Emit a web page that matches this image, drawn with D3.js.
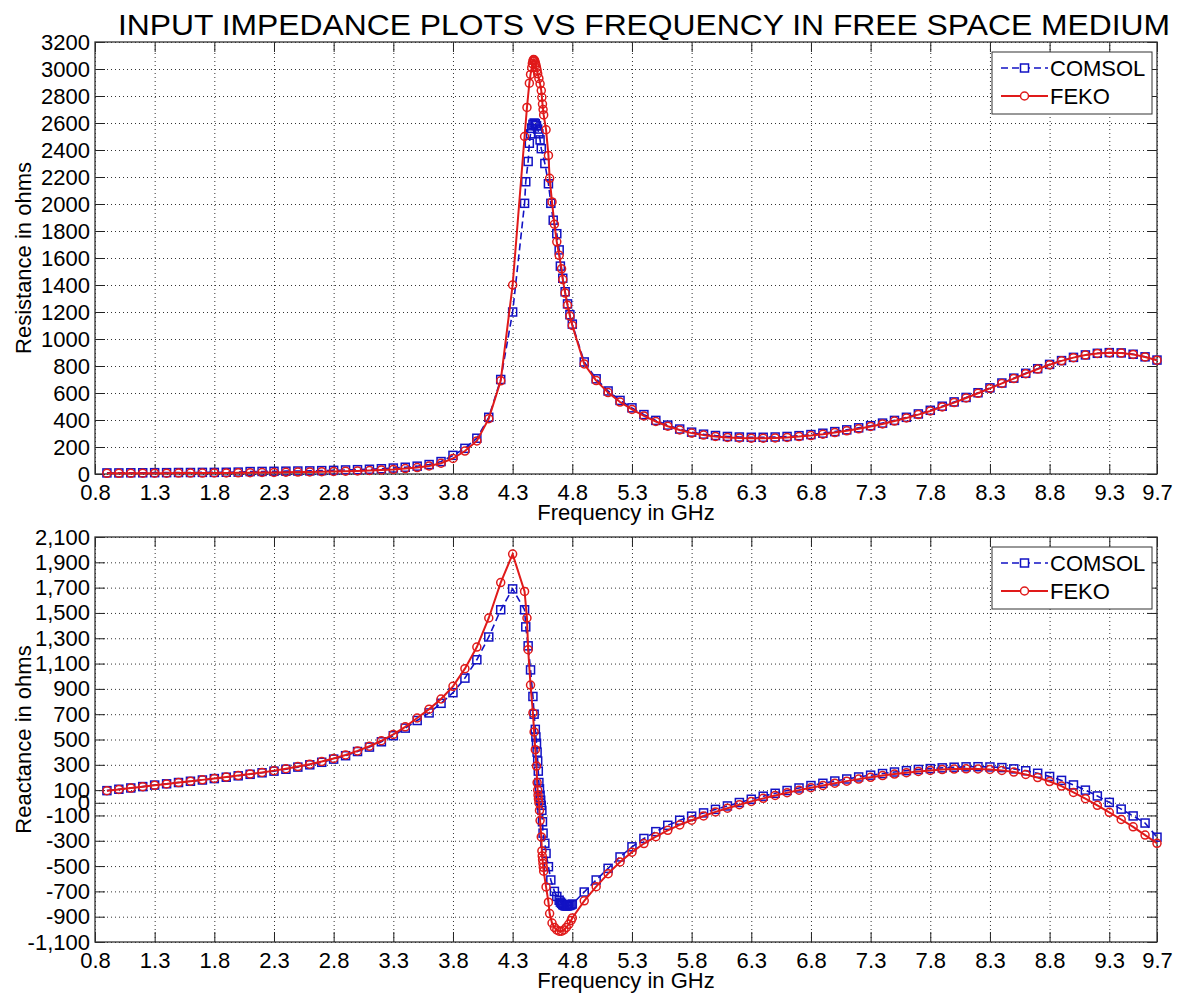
<!DOCTYPE html>
<html>
<head>
<meta charset="utf-8">
<script src="https://cdn.jsdelivr.net/npm/d3@7"></script>
<style>
body { margin: 0; background: #fff; }
svg { display: block; font-family: "Liberation Sans", Arial, sans-serif; }
</style>
</head>
<body>
<svg id="chart" width="1186" height="998"></svg>
<script>
// frequency ticks (GHz)
const freqTicks = [0.8, 1.3, 1.8, 2.3, 2.8, 3.3, 3.8, 4.3, 4.8, 5.3, 5.8, 6.3, 6.8, 7.3, 7.8, 8.3, 8.8, 9.3, 9.7];
const resistanceTicks = [0, 200, 400, 600, 800, 1000, 1200, 1400, 1600, 1800, 2000, 2200, 2400, 2600, 2800, 3000, 3200];
const reactanceTicks = [-1100, -900, -700, -500, -300, -100, 0, 100, 300, 500, 700, 900, 1100, 1300, 1500, 1700, 1900, 2100];

// [frequency, ohms]
const comsolResistance = [
    [0.9, 8], [1.0, 8], [1.1, 9], [1.2, 9], [1.3, 10], [1.4, 10], [1.5, 11], [1.6, 11], [1.7, 12], [1.8, 12],
    [1.9, 13], [2.0, 14], [2.1, 18], [2.2, 19], [2.3, 20], [2.4, 21], [2.5, 22], [2.6, 23], [2.7, 25], [2.8, 27],
    [2.9, 30], [3.0, 32], [3.1, 35], [3.2, 39], [3.3, 44], [3.4, 50], [3.5, 58], [3.6, 70], [3.7, 92], [3.8, 138],
    [3.9, 190], [4.0, 265], [4.1, 420], [4.2, 700], [4.3, 1200],
    [4.4, 2005], [4.41, 2165], [4.43, 2315], [4.44, 2450], [4.45, 2520], [4.46, 2560], [4.47, 2590], [4.48, 2600],
    [4.49, 2595], [4.5, 2580], [4.51, 2555], [4.52, 2520], [4.53, 2475], [4.54, 2410], [4.57, 2300], [4.6, 2150],
    [4.62, 2005], [4.64, 1880], [4.67, 1780], [4.69, 1660], [4.7, 1540], [4.72, 1450], [4.74, 1350], [4.76, 1260],
    [4.78, 1180], [4.8, 1110],
    [4.9, 830], [5.0, 705], [5.1, 615], [5.2, 545], [5.3, 490], [5.4, 440], [5.5, 397], [5.6, 362], [5.7, 333],
    [5.8, 310], [5.9, 295], [6.0, 285], [6.1, 278], [6.2, 274], [6.3, 272], [6.4, 272], [6.5, 274], [6.6, 278],
    [6.7, 284], [6.8, 292], [6.9, 302], [7.0, 314], [7.1, 327], [7.2, 342], [7.3, 358], [7.4, 377], [7.5, 397],
    [7.6, 420], [7.7, 445], [7.8, 472], [7.9, 502], [8.0, 534], [8.1, 567], [8.2, 602], [8.3, 638], [8.4, 674],
    [8.5, 710], [8.6, 746], [8.7, 780], [8.8, 812], [8.9, 840], [9.0, 864], [9.1, 882], [9.2, 894], [9.3, 899],
    [9.4, 897], [9.5, 887], [9.6, 868], [9.7, 844]
];

const fekoResistance = [
    [0.9, 5], [1.0, 5], [1.1, 5], [1.2, 6], [1.3, 6], [1.4, 6], [1.5, 7], [1.6, 7], [1.7, 7], [1.8, 8],
    [1.9, 8], [2.0, 9], [2.1, 10], [2.2, 11], [2.3, 12], [2.4, 13], [2.5, 14], [2.6, 15], [2.7, 17], [2.8, 19],
    [2.9, 21], [3.0, 23], [3.1, 26], [3.2, 30], [3.3, 34], [3.4, 40], [3.5, 48], [3.6, 60], [3.7, 80], [3.8, 115],
    [3.9, 170], [4.0, 245], [4.1, 410], [4.2, 690], [4.3, 1400],
    [4.4, 2500], [4.42, 2715], [4.44, 2895], [4.45, 2960], [4.46, 3010], [4.465, 3040], [4.47, 3060], [4.475, 3070],
    [4.48, 3068], [4.485, 3060], [4.49, 3045], [4.495, 3030], [4.5, 3010], [4.505, 2990], [4.51, 2965], [4.52, 2930],
    [4.53, 2890], [4.54, 2840], [4.545, 2790], [4.55, 2740], [4.555, 2700], [4.56, 2660], [4.58, 2550], [4.6, 2360],
    [4.61, 2190], [4.63, 2015], [4.65, 1850], [4.67, 1720], [4.69, 1620], [4.71, 1520], [4.72, 1440], [4.74, 1340],
    [4.76, 1250], [4.78, 1170], [4.8, 1100],
    [4.9, 815], [5.0, 692], [5.1, 603], [5.2, 533], [5.3, 478], [5.4, 430], [5.5, 389], [5.6, 354], [5.7, 326],
    [5.8, 303], [5.9, 288], [6.0, 278], [6.1, 271], [6.2, 267], [6.3, 265], [6.4, 265], [6.5, 267], [6.6, 271],
    [6.7, 277], [6.8, 285], [6.9, 295], [7.0, 307], [7.1, 320], [7.2, 335], [7.3, 352], [7.4, 371], [7.5, 392],
    [7.6, 415], [7.7, 440], [7.8, 467], [7.9, 497], [8.0, 529], [8.1, 563], [8.2, 598], [8.3, 634], [8.4, 671],
    [8.5, 707], [8.6, 743], [8.7, 777], [8.8, 809], [8.9, 838], [9.0, 862], [9.1, 881], [9.2, 893], [9.3, 898],
    [9.4, 896], [9.5, 886], [9.6, 867], [9.7, 843]
];

const comsolReactance = [
    [0.9, 96], [1.0, 107], [1.1, 117], [1.2, 128], [1.3, 140], [1.4, 150], [1.5, 160], [1.6, 170], [1.7, 180],
    [1.8, 191], [1.9, 202], [2.0, 213], [2.1, 225], [2.2, 237], [2.3, 250], [2.4, 265], [2.5, 282], [2.6, 300],
    [2.7, 320], [2.8, 345], [2.9, 372], [3.0, 405], [3.1, 440], [3.2, 482], [3.3, 530], [3.4, 590], [3.5, 650],
    [3.6, 710], [3.7, 786], [3.8, 870], [3.9, 985], [4.0, 1130], [4.1, 1310], [4.2, 1525], [4.3, 1690],
    [4.4, 1525], [4.41, 1390], [4.43, 1240], [4.45, 1050], [4.47, 840], [4.48, 700], [4.49, 580], [4.495, 520],
    [4.5, 470], [4.505, 400], [4.51, 330], [4.515, 250], [4.52, 160], [4.525, 110], [4.53, 60], [4.535, 20],
    [4.54, -20], [4.545, -60], [4.55, -150], [4.555, -240], [4.57, -320], [4.58, -400], [4.6, -505], [4.62, -610],
    [4.65, -700], [4.67, -740], [4.69, -770], [4.7, -785], [4.71, -795], [4.72, -805], [4.73, -810], [4.74, -815],
    [4.75, -815], [4.76, -815], [4.77, -812], [4.78, -810], [4.79, -805], [4.8, -800],
    [4.9, -705], [5.0, -610], [5.1, -518], [5.2, -428], [5.3, -348], [5.4, -282], [5.5, -228], [5.6, -178],
    [5.7, -138], [5.8, -106], [5.9, -80], [6.0, -52], [6.1, -25], [6.2, 2], [6.3, 28], [6.4, 52], [6.5, 75],
    [6.6, 97], [6.7, 117], [6.8, 136], [6.9, 154], [7.0, 172], [7.1, 188], [7.2, 204], [7.3, 218], [7.4, 231],
    [7.5, 243], [7.6, 254], [7.7, 263], [7.8, 270], [7.9, 276], [8.0, 281], [8.1, 284], [8.2, 285], [8.3, 283],
    [8.4, 278], [8.5, 268], [8.6, 253], [8.7, 233], [8.8, 208], [8.9, 177], [9.0, 141], [9.1, 100], [9.2, 54],
    [9.3, 3], [9.4, -50], [9.5, -104], [9.6, -160], [9.7, -272]
];

const fekoReactance = [
    [0.9, 95], [1.0, 105], [1.1, 116], [1.2, 127], [1.3, 138], [1.4, 149], [1.5, 160], [1.6, 170], [1.7, 181],
    [1.8, 192], [1.9, 203], [2.0, 215], [2.1, 227], [2.2, 240], [2.3, 254], [2.4, 269], [2.5, 286], [2.6, 305],
    [2.7, 326], [2.8, 350], [2.9, 378], [3.0, 410], [3.1, 447], [3.2, 490], [3.3, 540], [3.4, 600], [3.5, 670],
    [3.6, 740], [3.7, 820], [3.8, 920], [3.9, 1060], [4.0, 1230], [4.1, 1460], [4.2, 1740], [4.3, 1965],
    [4.4, 1670], [4.42, 1460], [4.43, 1210], [4.45, 930], [4.47, 710], [4.48, 560], [4.49, 420], [4.5, 290],
    [4.505, 160], [4.51, 100], [4.513, 60], [4.516, 30], [4.52, 0], [4.525, -60], [4.53, -140], [4.54, -270],
    [4.545, -380], [4.548, -420], [4.551, -450], [4.554, -480], [4.557, -510], [4.56, -540], [4.58, -665],
    [4.6, -785], [4.61, -875], [4.63, -950], [4.65, -985], [4.67, -1005], [4.69, -1015], [4.71, -1015],
    [4.73, -1005], [4.75, -985], [4.77, -960], [4.79, -930], [4.8, -910],
    [4.9, -775], [5.0, -663], [5.1, -560], [5.2, -468], [5.3, -390], [5.4, -322], [5.5, -268], [5.6, -218],
    [5.7, -175], [5.8, -138], [5.9, -104], [6.0, -72], [6.1, -43], [6.2, -15], [6.3, 11], [6.4, 35], [6.5, 58],
    [6.6, 80], [6.7, 100], [6.8, 119], [6.9, 137], [7.0, 155], [7.1, 171], [7.2, 187], [7.3, 201], [7.4, 215],
    [7.5, 227], [7.6, 238], [7.7, 248], [7.8, 256], [7.9, 262], [8.0, 266], [8.1, 268], [8.2, 267], [8.3, 263],
    [8.4, 256], [8.5, 243], [8.6, 224], [8.7, 199], [8.8, 168], [8.9, 132], [9.0, 82], [9.1, 32], [9.2, -20],
    [9.3, -75], [9.4, -132], [9.5, -190], [9.6, -255], [9.7, -320]
];

const blue = "#1212c4";
const red = "#e01a1a";

const svg = d3.select("#chart");
const left = 95, right = 1157;

const x = d3.scaleLinear().domain([0.8, 9.7]).range([left, right]);

svg.append("text")
    .attr("x", 118)
    .attr("y", 35)
    .attr("textLength", 1052)
    .attr("lengthAdjust", "spacingAndGlyphs")
    .style("font-size", "29px")
    .text("INPUT IMPEDANCE PLOTS VS FREQUENCY IN FREE SPACE MEDIUM");

const negFormat = d => (d < 0 ? "-" : "") + d3.format(",")(Math.abs(d));

function drawPanel(top, bottom, yDomain, yTicks, yFormat, yLabel, comsol, feko) {
    const y = d3.scaleLinear().domain(yDomain).range([bottom, top]);
    const g = svg.append("g");

    // dotted grid
    g.append("g")
        .attr("transform", `translate(0,${bottom})`)
        .call(d3.axisBottom(x).tickValues(freqTicks).tickSize(-(bottom - top)).tickFormat(""))
        .call(a => a.select(".domain").remove())
        .selectAll("line")
        .attr("stroke", "#333")
        .attr("stroke-dasharray", "1,3");

    g.append("g")
        .attr("transform", `translate(${left},0)`)
        .call(d3.axisLeft(y).tickValues(yTicks).tickSize(-(right - left)).tickFormat(""))
        .call(a => a.select(".domain").remove())
        .selectAll("line")
        .attr("stroke", "#333")
        .attr("stroke-dasharray", "1,3");

    // axes with inward ticks
    const xAxis = g.append("g")
        .attr("transform", `translate(0,${bottom})`)
        .call(d3.axisBottom(x).tickValues(freqTicks).tickSize(-10).tickSizeOuter(0).tickPadding(10)
            .tickFormat(d3.format(".1f")));
    g.append("g")
        .attr("transform", `translate(0,${top})`)
        .call(d3.axisTop(x).tickValues(freqTicks).tickSize(-10).tickSizeOuter(0).tickFormat(""));
    const yAxis = g.append("g")
        .attr("transform", `translate(${left},0)`)
        .call(d3.axisLeft(y).tickValues(yTicks).tickSize(-10).tickSizeOuter(0).tickPadding(5).tickFormat(yFormat));
    g.append("g")
        .attr("transform", `translate(${right},0)`)
        .call(d3.axisRight(y).tickValues(yTicks).tickSize(-10).tickSizeOuter(0).tickFormat(""));

    g.selectAll(".domain").remove();
    g.selectAll(".tick text")
        .attr("fill", "#000")
        .style("font-size", "22px")
        .style("font-family", "Liberation Sans, Arial, sans-serif");
    xAxis.selectAll(".tick text").attr("dy", "0.71em");
    g.selectAll(".tick line:not([stroke-dasharray])").attr("stroke", "#222");

    g.append("rect")
        .attr("x", left)
        .attr("y", top)
        .attr("width", right - left)
        .attr("height", bottom - top)
        .attr("fill", "none")
        .attr("stroke", "#333")
        .attr("stroke-width", 1.3);

    g.append("text")
        .attr("x", (left + right) / 2)
        .attr("y", bottom + 46)
        .attr("text-anchor", "middle")
        .style("font-size", "22px")
        .text("Frequency in GHz");

    g.append("text")
        .attr("transform", `translate(31,${(top + bottom) / 2}) rotate(-90)`)
        .attr("text-anchor", "middle")
        .style("font-size", "22px")
        .text(yLabel);

    const line = d3.line().x(d => x(d[0])).y(d => y(d[1]));

    // COMSOL
    g.append("path")
        .datum(comsol)
        .attr("d", line)
        .attr("fill", "none")
        .attr("stroke", blue)
        .attr("stroke-width", 1.6)
        .attr("stroke-dasharray", "7,4");
    g.selectAll(".sq")
        .data(comsol)
        .join("rect")
        .attr("class", "sq")
        .attr("x", d => x(d[0]) - 4)
        .attr("y", d => y(d[1]) - 4)
        .attr("width", 8)
        .attr("height", 8)
        .attr("fill", "none")
        .attr("stroke", blue)
        .attr("stroke-width", 1.5);

    // FEKO
    g.append("path")
        .datum(feko)
        .attr("d", line)
        .attr("fill", "none")
        .attr("stroke", red)
        .attr("stroke-width", 2);
    g.selectAll(".ci")
        .data(feko)
        .join("circle")
        .attr("class", "ci")
        .attr("cx", d => x(d[0]))
        .attr("cy", d => y(d[1]))
        .attr("r", 4)
        .attr("fill", "none")
        .attr("stroke", red)
        .attr("stroke-width", 1.5);

    // legend
    const lg = g.append("g").attr("transform", `translate(992,${top + 10})`);
    lg.append("rect")
        .attr("width", 160)
        .attr("height", 62)
        .attr("fill", "#fff")
        .attr("stroke", "#333")
        .attr("stroke-width", 1);
    lg.append("line")
        .attr("x1", 9).attr("x2", 56).attr("y1", 16).attr("y2", 16)
        .attr("stroke", blue).attr("stroke-width", 1.6).attr("stroke-dasharray", "7,4");
    lg.append("rect")
        .attr("x", 28.5).attr("y", 12).attr("width", 8).attr("height", 8)
        .attr("fill", "#fff").attr("stroke", blue).attr("stroke-width", 1.5);
    lg.append("line")
        .attr("x1", 9).attr("x2", 56).attr("y1", 44).attr("y2", 44)
        .attr("stroke", red).attr("stroke-width", 2);
    lg.append("circle")
        .attr("cx", 32.5).attr("cy", 44).attr("r", 4)
        .attr("fill", "#fff").attr("stroke", red).attr("stroke-width", 1.5);
    lg.append("text").attr("x", 58).attr("y", 24).style("font-size", "22px").text("COMSOL");
    lg.append("text").attr("x", 58).attr("y", 52).style("font-size", "22px").text("FEKO");
}

drawPanel(42, 474, [0, 3200], resistanceTicks, d3.format("d"), "Resistance in ohms",
    comsolResistance, fekoResistance);
drawPanel(537, 942, [-1100, 2100], reactanceTicks, negFormat, "Reactance in ohms",
    comsolReactance, fekoReactance);
</script>
</body>
</html>
